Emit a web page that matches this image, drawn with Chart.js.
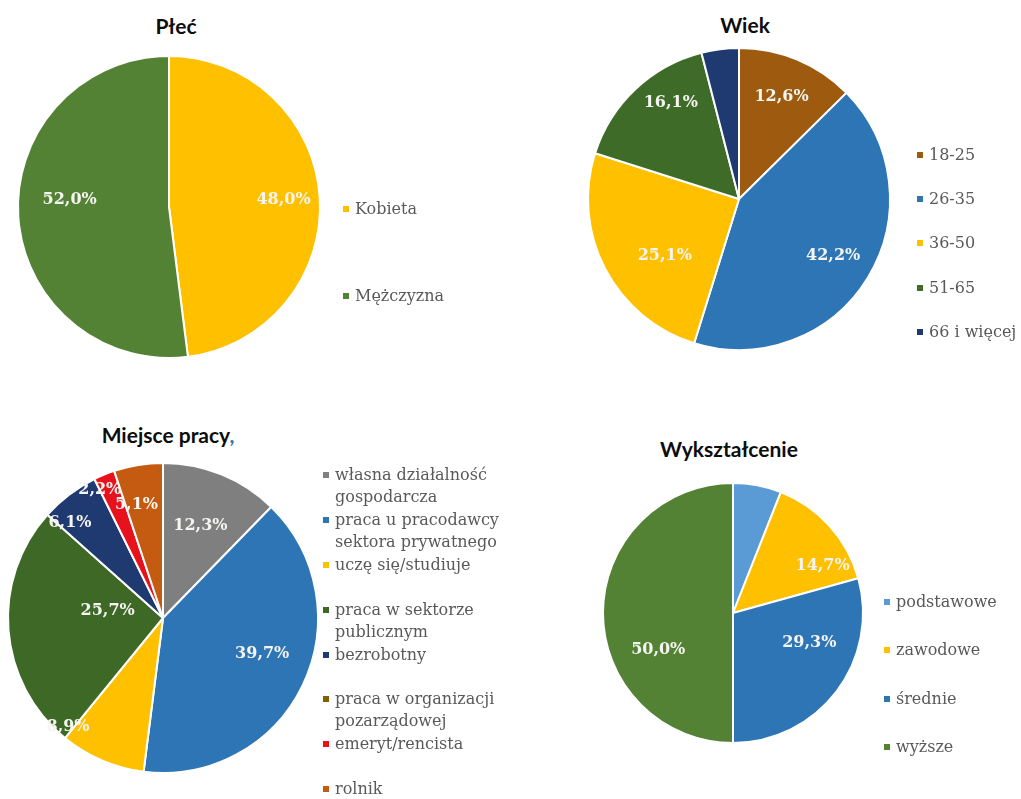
<!DOCTYPE html>
<html lang="pl">
<head>
<meta charset="utf-8">
<script src="https://cdn.jsdelivr.net/npm/chart.js@4.4.0/dist/chart.umd.min.js"></script>
<style>
  body { margin: 0; background: #fff; }
  #strona { position: relative; width: 1021px; height: 799px; overflow: hidden; }
  .tytul { position: absolute; transform: translate(-50%, -50%); font-family: Lato, "Liberation Sans", sans-serif;
           font-weight: bold; font-size: 21px; color: #0d0d0d; white-space: nowrap; }
  .tytul .przecinek { color: #2e75b6; }
  canvas { position: absolute; }
  .legenda { position: absolute; font-family: "DejaVu Serif", serif; font-size: 16px; color: #595959; }
  .legenda .poz { position: relative; padding-left: 12px; line-height: 22px; white-space: nowrap; }
  .legenda .znak { position: absolute; left: 0; top: 8px; width: 6px; height: 6px; }
</style>
</head>
<body>
<div id="strona">
  <div class="tytul" style="left:176px; top:25px;">Płeć</div>
  <div class="tytul" style="left:745px; top:24px;">Wiek</div>
  <div class="tytul" style="left:168px; top:434px;">Miejsce pracy<span class="przecinek">,</span></div>
  <div class="tytul" style="left:729px; top:448px;">Wykształcenie</div>
  <canvas id="plec"></canvas>
  <canvas id="wiek"></canvas>
  <canvas id="praca"></canvas>
  <canvas id="wyksztalcenie"></canvas>
  <div class="legenda" id="legPlec"></div>
  <div class="legenda" id="legWiek"></div>
  <div class="legenda" id="legPraca"></div>
  <div class="legenda" id="legWyksztalcenie"></div>
</div>
<script>
// Płeć
const plecEtykiety = ["Kobieta", "Mężczyzna"];
const plecWartosci = [48.0, 52.0];
const plecKolory = ["#ffc000", "#548235"];

// Wiek
const wiekEtykiety = ["18-25", "26-35", "36-50", "51-65", "66 i więcej"];
const wiekWartosci = [12.6, 42.2, 25.1, 16.1, 4.0];
const wiekKolory = ["#9e5a0e", "#2e75b6", "#ffc000", "#3e6b27", "#1f3a70"];

// Miejsce pracy
const pracaEtykiety = [
  ["własna działalność", "gospodarcza"],
  ["praca u pracodawcy", "sektora prywatnego"],
  ["uczę się/studiuje"],
  ["praca w sektorze", "publicznym"],
  ["bezrobotny"],
  ["praca w organizacji", "pozarządowej"],
  ["emeryt/rencista"],
  ["rolnik"]
];
const pracaWartosci = [12.3, 39.7, 8.9, 25.7, 6.1, 0.0, 2.2, 5.1];
const pracaKolory = ["#7f7f7f", "#2e75b6", "#ffc000", "#3d6826", "#1f3a70", "#806000", "#e8121c", "#c55a11"];

// Wykształcenie
const wyksEtykiety = ["podstawowe", "zawodowe", "średnie", "wyższe"];
const wyksWartosci = [6.0, 14.7, 29.3, 50.0];
const wyksKolory = ["#5b9bd5", "#ffc000", "#2e75b6", "#548235"];

// etykiety procentowe na wycinkach
const etykietyPlugin = {
  id: 'etykiety',
  afterDatasetsDraw(chart, args, opts) {
    const ctx = chart.ctx;
    const meta = chart.getDatasetMeta(0);
    const dane = chart.data.datasets[0].data;
    ctx.save();
    ctx.font = 'bold 16px "DejaVu Serif"';
    ctx.fillStyle = opts.kolor || '#f4f4f0';
    ctx.textAlign = 'center';
    ctx.textBaseline = 'middle';
    meta.data.forEach((luk, i) => {
      const ulamek = opts.promien[i];
      if (!ulamek) return;
      const p = luk.getProps(['x', 'y', 'startAngle', 'endAngle', 'outerRadius'], true);
      const kat = (p.startAngle + p.endAngle) / 2 + (opts.obrot ? opts.obrot[i] : 0) * Math.PI / 180;
      const r = p.outerRadius * ulamek;
      const tekst = dane[i].toFixed(1).replace('.', ',') + '%';
      ctx.fillText(tekst, p.x + Math.cos(kat) * r, p.y + Math.sin(kat) * r);
    });
    ctx.restore();
  }
};

function rysujKolo(id, etykiety, wartosci, kolory, cx, cy, r, promienie, obrot) {
  const pad = 30;
  const rozmiar = 2 * r + 2 + 2 * pad;
  const canvas = document.getElementById(id);
  canvas.width = rozmiar;
  canvas.height = rozmiar;
  canvas.style.left = (cx - r - 1 - pad) + 'px';
  canvas.style.top = (cy - r - 1 - pad) + 'px';
  new Chart(canvas.getContext('2d'), {
    type: 'pie',
    data: {
      labels: etykiety,
      datasets: [{
        data: wartosci,
        backgroundColor: kolory,
        borderColor: '#ffffff',
        borderWidth: 2
      }]
    },
    options: {
      responsive: false,
      animation: false,
      layout: { padding: pad },
      plugins: {
        legend: { display: false },
        tooltip: { enabled: false },
        etykiety: { promien: promienie, obrot: obrot }
      }
    },
    plugins: [etykietyPlugin]
  });
}

function legenda(id, etykiety, kolory, left, top, krok) {
  const el = document.getElementById(id);
  el.style.left = left + 'px';
  el.style.top = top + 'px';
  etykiety.forEach((e, i) => {
    const poz = document.createElement('div');
    poz.className = 'poz';
    poz.style.height = krok + 'px';
    const znak = document.createElement('span');
    znak.className = 'znak';
    znak.style.background = kolory[i];
    poz.appendChild(znak);
    const linie = Array.isArray(e) ? e : [e];
    linie.forEach(l => {
      const d = document.createElement('div');
      d.textContent = l;
      poz.appendChild(d);
    });
    el.appendChild(poz);
  });
}

rysujKolo('plec', plecEtykiety, plecWartosci, plecKolory, 169, 207, 151, [0.76, 0.66], [0, 8]);
rysujKolo('wiek', wiekEtykiety, wiekWartosci, wiekKolory, 739, 199, 151, [0.73, 0.73, 0.62, 0.78, 0], [0, 0, -10, 8, 0]);
rysujKolo('praca', pracaEtykiety, pracaWartosci, pracaKolory, 163, 618, 155, [0.64, 0.68, 0.93, 0.36, 0.86, 0, 0.92, 0.75], [0, -6, 18, 12, -7, 0, -4, -4]);
rysujKolo('wyksztalcenie', wyksEtykiety, wyksWartosci, wyksKolory, 733, 613, 130, [0, 0.78, 0.63, 0.64], [0, 14, -16, -26]);

legenda('legPlec', plecEtykiety, plecKolory, 343, 198, 87);
legenda('legWiek', wiekEtykiety, wiekKolory, 917, 144, 44.2);
legenda('legPraca', pracaEtykiety, pracaKolory, 323, 464, 44.9);
legenda('legWyksztalcenie', wyksEtykiety, wyksKolory, 884, 591, 48.3);
</script>
</body>
</html>
